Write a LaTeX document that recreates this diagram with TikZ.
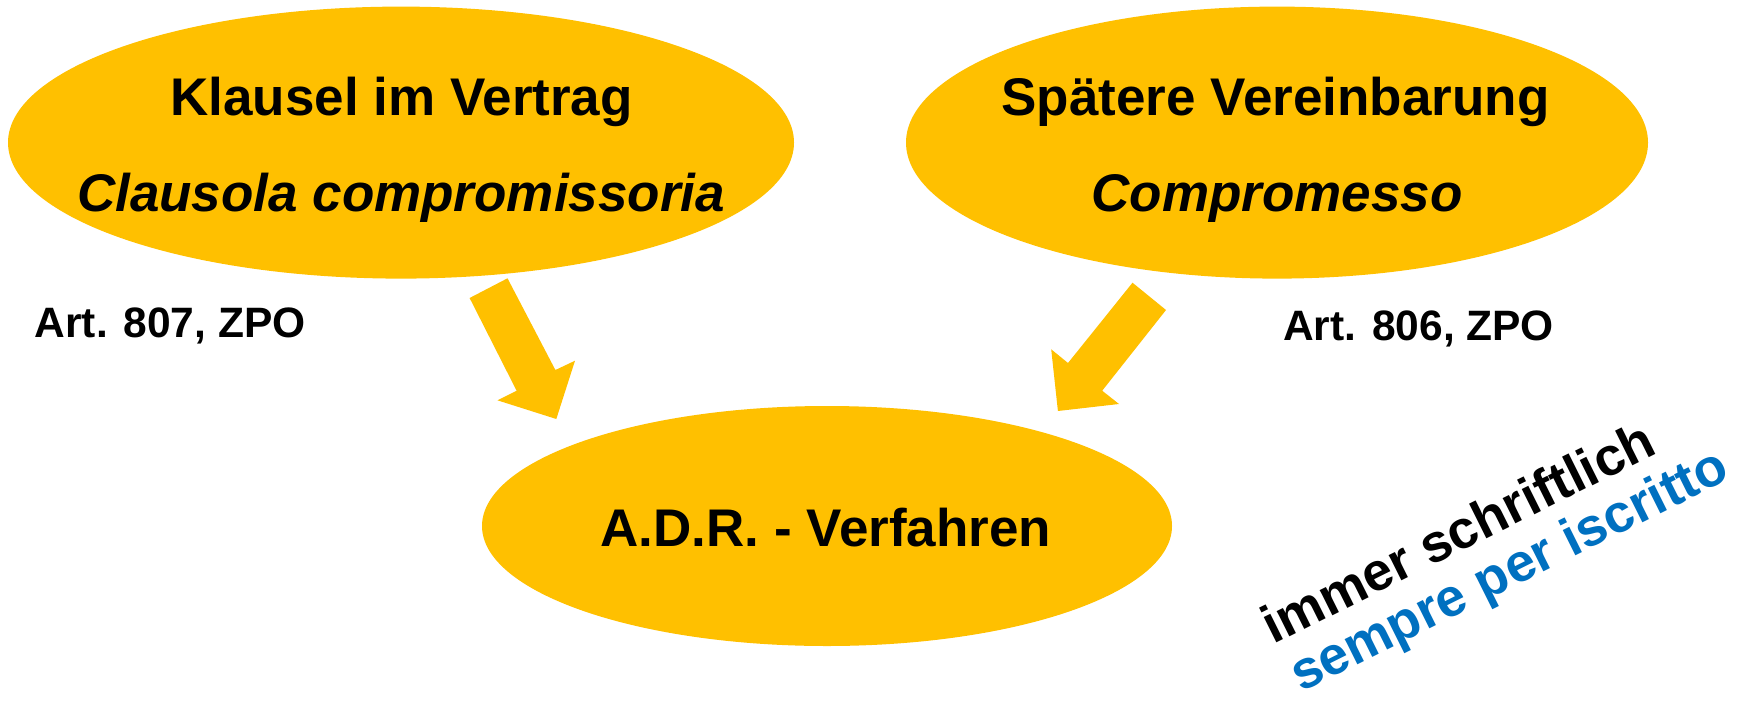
\documentclass[tikz,border=0pt]{standalone}
\usepackage{fontspec}
\setmainfont{Liberation Sans}
\usetikzlibrary{shapes.geometric}
\definecolor{gold}{HTML}{FFC000}
\definecolor{itblue}{HTML}{0070C0}
\begin{document}
\begin{tikzpicture}[x=1pt,y=-1pt,
  oval/.style={ellipse, fill=gold, draw=none, inner sep=0pt},
  bigtxt/.style={inner sep=0pt, anchor=base, font=\fontsize{53}{60}\selectfont\bfseries},
  bigit/.style={bigtxt, font=\fontsize{53}{60}\selectfont\bfseries\itshape},
  arttxt/.style={inner sep=0pt, anchor=base west, font=\fontsize{42.5}{50}\selectfont\bfseries},
  rottxt/.style={inner sep=0pt, anchor=base west, rotate=26.5, font=\fontsize{53.5}{60}\selectfont\bfseries},
  blockarrow/.style={fill=gold, draw=none}
]
\useasboundingbox (0,0) rectangle (1747,701);

\node[oval, minimum width=786pt, minimum height=272pt] (e1) at (401,142.6) {};
\node[oval, minimum width=742pt, minimum height=272pt] (e2) at (1277,142.6) {};
\node[oval, minimum width=690pt, minimum height=240pt] (e3) at (827,526) {};

\node[bigtxt] (t1a) at (401.5,115.7) {Klausel im Vertrag};
\node[bigit]  (t1b) at (401,211.7) {Clausola compromissoria};
\node[bigtxt] (t2a) at (1275.5,115.7) {Spätere Vereinbarung};
\node[bigit]  (t2b) at (1277,211.7) {Compromesso};
\node[bigtxt] (t3)  at (826,546.7) {A.D.R. - Verfahren};

\node[arttxt] (a807) at (34.5,337.3) {Art. 807, ZPO};
\node[arttxt] (a806) at (1283,340) {Art. 806, ZPO};

\node[rottxt] (imm) at (1273,645) {immer schriftlich};
\node[rottxt, text=itblue] (semp) at (1301,693) {sempre per iscritto};

\fill[blockarrow] (507.5,278.3) -- (469.6,298) -- (516.6,390.7) -- (497.4,400.3)
  -- (556.3,419) -- (575,360.7) -- (555.4,370) -- cycle;
\fill[blockarrow] (1132.5,282.7) -- (1166,310) -- (1102.2,390.7) -- (1119,404)
  -- (1057.9,411) -- (1051.2,349.3) -- (1068,363) -- cycle;
\end{tikzpicture}
\end{document}
